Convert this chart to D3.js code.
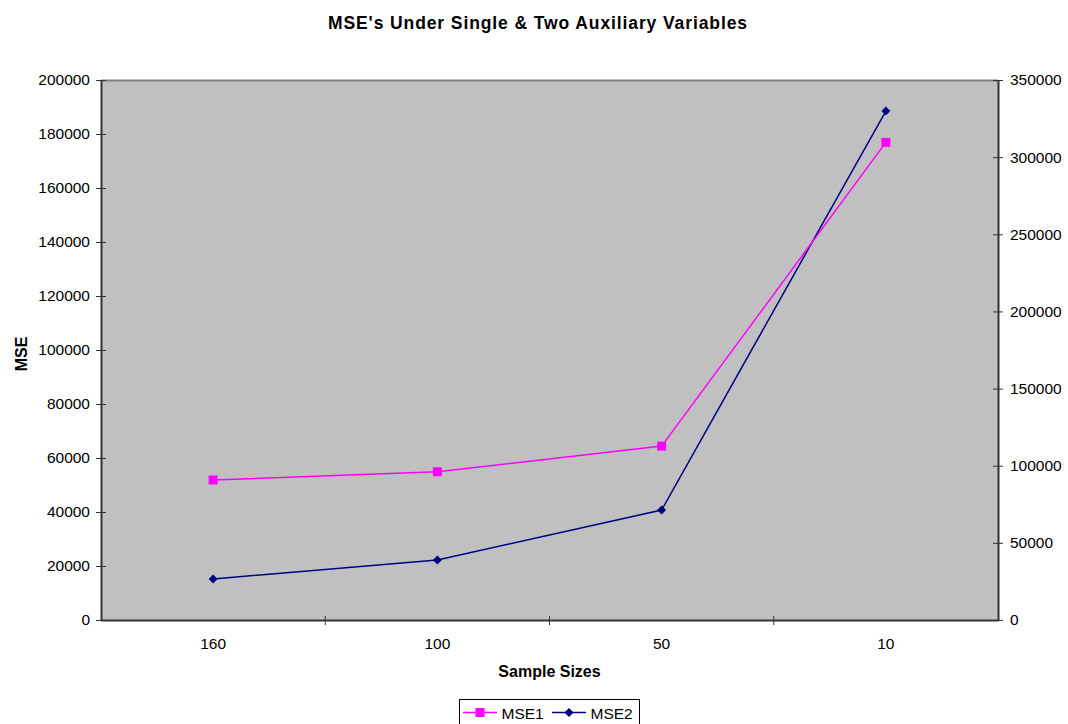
<!DOCTYPE html>
<html>
<head>
<meta charset="utf-8">
<script src="https://cdn.jsdelivr.net/npm/d3@7"></script>
<style>
  html, body { margin: 0; padding: 0; background: #fff; }
  svg { display: block; font-family: Arial, "Liberation Sans", sans-serif; }
</style>
</head>
<body>
<svg id="chart" width="1068" height="724"></svg>
<script>
const categories = ["160", "100", "50", "10"];
const mse1 = [51850, 54900, 64400, 176900];     // left axis
const mse2 = [26600, 38900, 71300, 329900];     // right axis
const leftTicks = [0, 20000, 40000, 60000, 80000, 100000, 120000, 140000, 160000, 180000, 200000];
const rightTicks = [0, 50000, 100000, 150000, 200000, 250000, 300000, 350000];
const seriesNames = ["MSE1", "MSE2"];

const svg = d3.select("#chart");
const L = 101, R = 998, T = 80, B = 620;
const FONT = "Arial, 'Liberation Sans', sans-serif";
const TICKFS = "15.5px";

const x = d3.scaleBand().domain(categories).range([L, R]).paddingInner(0).paddingOuter(0);
const yL = d3.scaleLinear().domain([0, 200000]).range([B, T]);
const yR = d3.scaleLinear().domain([0, 350000]).range([B, T]);

// plot area
svg.append("rect").attr("x", L).attr("y", T).attr("width", R - L).attr("height", B - T)
  .attr("fill", "#c0c0c0");
svg.append("line").attr("x1", L).attr("x2", R).attr("y1", T + 0.5).attr("y2", T + 0.5)
  .attr("stroke", "#808080").attr("stroke-width", 2);

const axisColor = "#333";
// left axis
const gL = svg.append("g").attr("transform", `translate(${L},0)`)
  .call(d3.axisLeft(yL).tickValues(leftTicks).tickFormat(d3.format("d")).tickSizeInner(5).tickSizeOuter(0).tickPadding(6));
gL.selectAll(".tick line").attr("x2", 5).attr("x1", -5);
// right axis
const gR = svg.append("g").attr("transform", `translate(${R},0)`)
  .call(d3.axisRight(yR).tickValues(rightTicks).tickFormat(d3.format("d")).tickSizeInner(5).tickSizeOuter(0).tickPadding(7));
gR.selectAll(".tick line").attr("x1", -5).attr("x2", 5);
// bottom axis
const gB = svg.append("g").attr("transform", `translate(0,${B})`)
  .call(d3.axisBottom(x).tickSize(0).tickPadding(18));
gB.selectAll(".tick line").remove();
const bounds = categories.map(c => x(c)).concat([R]);
gB.selectAll(".bt").data(bounds.slice(1, -1)).enter().append("line")
  .attr("x1", d => d).attr("x2", d => d).attr("y1", -4).attr("y2", 5)
  .attr("stroke", axisColor);

[gL, gR, gB].forEach(g => {
  g.attr("font-size", TICKFS).attr("font-family", FONT);
  g.select(".domain").attr("stroke", axisColor).attr("stroke-width", 2);
  g.selectAll(".tick line").attr("stroke", axisColor);
  g.selectAll("text").attr("fill", "#000");
});

const cx = c => x(c) + x.bandwidth() / 2;

// MSE2 (navy, right axis)
const line2 = d3.line().x((d, i) => cx(categories[i])).y(d => yR(d));
svg.append("path").datum(mse2).attr("d", line2).attr("fill", "none")
  .attr("stroke", "#000080").attr("stroke-width", 1.5);
svg.selectAll(".m2").data(mse2).enter().append("path")
  .attr("d", d3.symbol(d3.symbolDiamond2, 52)())
  .attr("transform", (d, i) => `translate(${cx(categories[i])},${yR(d)})`)
  .attr("fill", "#000080");

// MSE1 (magenta, left axis)
const line1 = d3.line().x((d, i) => cx(categories[i])).y(d => yL(d));
svg.append("path").datum(mse1).attr("d", line1).attr("fill", "none")
  .attr("stroke", "#ff00ff").attr("stroke-width", 1.5);
svg.selectAll(".m1").data(mse1).enter().append("rect")
  .attr("x", (d, i) => cx(categories[i]) - 4.5).attr("y", d => yL(d) - 4.5)
  .attr("width", 9).attr("height", 9).attr("fill", "#ff00ff");

// title and labels
svg.append("text").attr("x", 537.5).attr("y", 29).attr("text-anchor", "middle")
  .attr("font-size", "17.5px").attr("font-weight", "bold")
  .attr("textLength", 419).attr("lengthAdjust", "spacing")
  .text("MSE's Under Single & Two Auxiliary Variables");
svg.append("text").attr("x", (L + R) / 2).attr("y", 677).attr("text-anchor", "middle")
  .attr("font-size", "16px").attr("font-weight", "bold").text("Sample Sizes");
svg.append("text").attr("transform", "translate(27,354) rotate(-90)").attr("text-anchor", "middle")
  .attr("font-size", "16px").attr("font-weight", "bold").text("MSE");

// legend
const lg = svg.append("g");
lg.append("rect").attr("x", 459.5).attr("y", 699.5).attr("width", 180).attr("height", 30)
  .attr("fill", "#fff").attr("stroke", "#000");
const items = [
  { name: seriesNames[0], color: "#ff00ff", x0: 463, marker: "square" },
  { name: seriesNames[1], color: "#000080", x0: 552, marker: "diamond" }
];
items.forEach(it => {
  const yy = 712.5;
  lg.append("line").attr("x1", it.x0).attr("x2", it.x0 + 34).attr("y1", yy).attr("y2", yy)
    .attr("stroke", it.color).attr("stroke-width", 1.5);
  if (it.marker === "square") {
    lg.append("rect").attr("x", it.x0 + 17 - 4.5).attr("y", yy - 4.5).attr("width", 9).attr("height", 9).attr("fill", it.color);
  } else {
    lg.append("path").attr("d", d3.symbol(d3.symbolDiamond2, 52)())
      .attr("transform", `translate(${it.x0 + 17},${yy})`).attr("fill", it.color);
  }
  lg.append("text").attr("x", it.x0 + 38.5).attr("y", yy + 6).attr("font-size", TICKFS).text(it.name);
});
</script>
</body>
</html>
